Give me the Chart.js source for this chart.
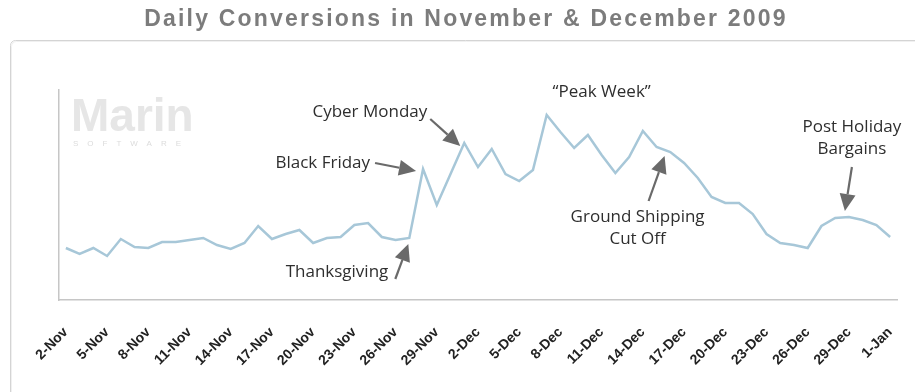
<!DOCTYPE html>
<html>
<head>
<meta charset="utf-8">
<script src="https://cdn.jsdelivr.net/npm/chart.js@4.4.1/dist/chart.umd.min.js"></script>
<style>
  html, body { margin: 0; padding: 0; background: #fff; }
  #wrap { width: 915px; height: 392px; }
</style>
</head>
<body>
<div id="wrap"><canvas id="myChart" width="915" height="392"></canvas></div>
<script>
// Chart title
var titleText = "Daily Conversions in November & December 2009";

// One label per day, 2-Nov to 1-Jan (every third one is shown)
var days = [
  "2-Nov", "3-Nov", "4-Nov", "5-Nov", "6-Nov", "7-Nov", "8-Nov", "9-Nov", "10-Nov", "11-Nov",
  "12-Nov", "13-Nov", "14-Nov", "15-Nov", "16-Nov", "17-Nov", "18-Nov", "19-Nov", "20-Nov", "21-Nov",
  "22-Nov", "23-Nov", "24-Nov", "25-Nov", "26-Nov", "27-Nov", "28-Nov", "29-Nov", "30-Nov", "1-Dec",
  "2-Dec", "3-Dec", "4-Dec", "5-Dec", "6-Dec", "7-Dec", "8-Dec", "9-Dec", "10-Dec", "11-Dec",
  "12-Dec", "13-Dec", "14-Dec", "15-Dec", "16-Dec", "17-Dec", "18-Dec", "19-Dec", "20-Dec", "21-Dec",
  "22-Dec", "23-Dec", "24-Dec", "25-Dec", "26-Dec", "27-Dec", "28-Dec", "29-Dec", "30-Dec", "31-Dec",
  "1-Jan"
];

// Daily conversions (no y scale on the original, relative units)
var conversions = [
  52, 46, 52, 44, 61, 53, 52, 58, 58, 60,
  62, 55, 51, 57, 74, 61, 66, 70, 57, 62,
  63, 75, 77, 63, 60, 62, 131, 95, 126, 157,
  133, 151, 126, 119, 130, 185, 168, 152, 165, 145,
  127, 143, 169, 153, 148, 137, 122, 103, 97, 97,
  86, 66, 57, 55, 52, 74, 82, 83, 80, 75,
  63
];

// Callouts: which day they point at, text lines
var noteDays  = [25, 26, 29, 35, 43, 57];
var noteTexts = [
  ["Thanksgiving"],
  ["Black Friday"],
  ["Cyber Monday"],
  ["\u201cPeak Week\u201d"],
  ["Ground Shipping", "Cut Off"],
  ["Post Holiday", "Bargains"]
];

// offsets from the pointed day (px): text anchor, arrow tail, arrow tip
var noteLayout = [
  { align: "right",  text: [-21, 34],  tail: [-14, 41],  tip: [-1, 6] },
  { align: "right",  text: [-53, -6],  tail: [-48, -6],  tip: [-7, 2] },
  { align: "right",  text: [-37, -31], tail: [-34, -24], tip: [-4, 3] },
  { align: "center", text: [55, -23],  tail: null,       tip: null },
  { align: "center", text: [-19, 70],  tail: [-8, 54],   tip: [8, 9] },
  { align: "center", text: [3, -90],   tail: [3, -50],   tip: [-4, -6] }
];

function drawArrow(ctx, x1, y1, x2, y2) {
  var a = Math.atan2(y2 - y1, x2 - x1);
  var hl = 17, hw = 8;
  var bx = x2 - hl * Math.cos(a), by = y2 - hl * Math.sin(a);
  ctx.beginPath();
  ctx.moveTo(x1, y1);
  ctx.lineTo(bx, by);
  ctx.stroke();
  ctx.beginPath();
  ctx.moveTo(x2, y2);
  ctx.lineTo(bx + hw * Math.sin(a), by - hw * Math.cos(a));
  ctx.lineTo(bx - hw * Math.sin(a), by + hw * Math.cos(a));
  ctx.closePath();
  ctx.fill();
}

// frame, watermark and title behind the chart
var backdrop = {
  id: "backdrop",
  beforeDraw: function (chart) {
    var ctx = chart.ctx;
    ctx.save();
    ctx.fillStyle = "#fff";
    ctx.fillRect(0, 0, chart.width, chart.height);

    ctx.strokeStyle = "#d4d4d4";
    ctx.lineWidth = 1;
    ctx.beginPath();
    ctx.roundRect(10.5, 40.5, 940, 400, 5);
    ctx.stroke();
    ctx.strokeStyle = "#f0f0f0";
    ctx.beginPath();
    ctx.roundRect(11.5, 41.5, 940, 400, 5);
    ctx.stroke();

    // watermark logo
    ctx.fillStyle = "#e6e6e6";
    ctx.font = "bold 46px 'Liberation Sans'";
    ctx.textAlign = "left";
    ctx.textBaseline = "alphabetic";
    ctx.fillText("Marin", 71, 131);
    ctx.fillStyle = "#dcdcdc";
    ctx.font = "8px 'Liberation Sans'";
    ctx.letterSpacing = "9px";
    ctx.fillText("SOFTWARE", 73, 146);
    ctx.letterSpacing = "0px";

    // title
    ctx.fillStyle = "#7c7c7c";
    ctx.font = "bold 23px 'Liberation Sans'";
    ctx.letterSpacing = "2.2px";
    ctx.textAlign = "center";
    ctx.textBaseline = "middle";
    ctx.fillText(titleText, 466, 20);
    ctx.letterSpacing = "0px";
    ctx.restore();
  },
  afterDatasetsDraw: function (chart) {
    var ctx = chart.ctx;
    var xs = chart.scales.x, ys = chart.scales.y;
    ctx.save();
    ctx.font = "17px 'Open Sans'";
    ctx.textBaseline = "middle";
    ctx.fillStyle = "#2e2e2e";
    for (var i = 0; i < noteDays.length; i++) {
      var d = noteDays[i];
      var px = xs.getPixelForValue(d);
      var py = ys.getPixelForValue(conversions[d]);
      var L = noteLayout[i];
      ctx.textAlign = L.align;
      for (var j = 0; j < noteTexts[i].length; j++) {
        ctx.fillText(noteTexts[i][j], px + L.text[0], py + L.text[1] + j * 22);
      }
      if (L.tip) {
        ctx.strokeStyle = "#6a6a6a";
        ctx.fillStyle = "#6a6a6a";
        ctx.lineWidth = 2.2;
        drawArrow(ctx, px + L.tail[0], py + L.tail[1], px + L.tip[0], py + L.tip[1]);
        ctx.fillStyle = "#2e2e2e";
      }
    }
    ctx.restore();
  }
};

var chart = new Chart(document.getElementById("myChart").getContext("2d"), {
  type: "line",
  data: {
    labels: days,
    datasets: [
      {
        label: "Conversions",
        data: conversions,
        borderColor: "#a7c7d8",
        borderWidth: 2.5,
        pointRadius: 0,
        fill: false,
        tension: 0
      }
    ]
  },
  options: {
    responsive: false,
    animation: false,
    devicePixelRatio: 1,
    layout: { padding: { left: 59, right: 18, top: 90, bottom: 0 } },
    plugins: {
      legend: { display: false },
      tooltip: { enabled: false },
      title: { display: false }
    },
    scales: {
      x: {
        offset: true,
        grid: { display: false, drawTicks: true, tickLength: 22 },
        border: { display: true, color: "#c6c6c6", width: 1.5 },
        ticks: {
          autoSkip: false,
          minRotation: 45,
          maxRotation: 45,
          padding: 2,
          color: "#222",
          font: { family: "'Liberation Sans'", size: 14, weight: "bold" },
          callback: function (val, idx) {
            return idx % 3 === 0 ? this.getLabelForValue(val) : "";
          }
        },
        afterFit: function (scale) { scale.height = 92; }
      },
      y: {
        min: 0,
        max: 210,
        grid: { display: false, drawTicks: false },
        border: { display: true, color: "#c6c6c6", width: 1.5 },
        ticks: { display: false }
      }
    }
  },
  plugins: [backdrop]
});
</script>
</body>
</html>
